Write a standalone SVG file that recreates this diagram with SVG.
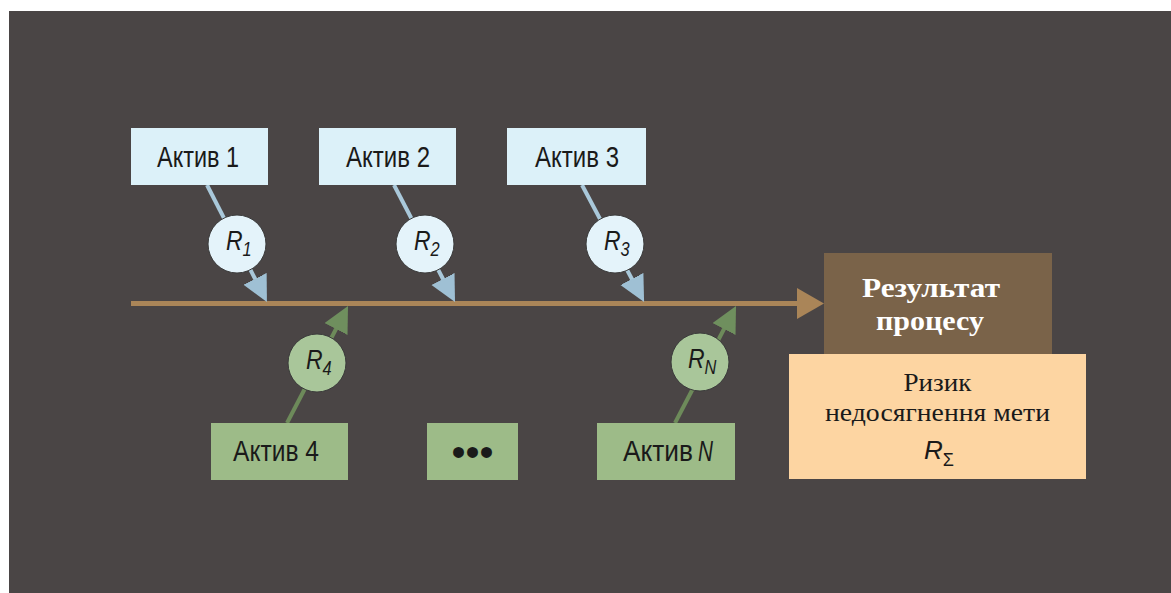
<svg xmlns="http://www.w3.org/2000/svg" width="1171" height="593" viewBox="0 0 1171 593">
<style>
.bg{fill:#4a4545}
.bbox{fill:#dcf1f9}
.gbox{fill:#9dbb88}
.bcirc{fill:#e4f3fa;stroke:#3a3a3a;stroke-width:1}
.gcirc{fill:#a9c69a;stroke:#3a3a3a;stroke-width:1}
.lbl{font-family:"Liberation Sans",Arial,sans-serif;font-size:29px;fill:#1a1a1a}
.rl{font-family:"Liberation Sans",Arial,sans-serif;font-size:28px;font-style:italic;fill:#1a1a1a}
.sub{font-size:20px}
.bl{stroke:#a9c8da;stroke-width:4;fill:none}
.gl{stroke:#6d8a5a;stroke-width:4;fill:none}
.ser{font-family:"Liberation Serif","Times New Roman",serif}
</style>
<defs>
<marker id="ab" markerUnits="userSpaceOnUse" markerWidth="28" markerHeight="28" refX="13" refY="13" orient="auto" viewBox="0 0 28 28">
<path d="M0,0 L26,13 L0,26 z" fill="#9fc0d4"/>
</marker>
<marker id="ag" markerUnits="userSpaceOnUse" markerWidth="28" markerHeight="28" refX="13" refY="13" orient="auto" viewBox="0 0 28 28">
<path d="M0,0 L26,13 L0,26 z" fill="#6f8f5e"/>
</marker>
</defs>
<rect x="0" y="0" width="1171" height="593" fill="#ffffff"/>
<rect class="bg" x="9" y="11" width="1162" height="582"/>

<g id="connectors">
<line x1="131" y1="303.5" x2="799" y2="303.5" stroke="#aa8558" stroke-width="5"/>
<polygon points="797,288 824,303.5 797,319" fill="#aa8558"/>
<line class="bl" x1="207" y1="185" x2="261" y2="290.4" marker-end="url(#ab)"/>
<line class="bl" x1="394" y1="185" x2="449" y2="290.5" marker-end="url(#ab)"/>
<line class="bl" x1="582" y1="185" x2="638" y2="290.5" marker-end="url(#ab)"/>
<line class="gl" x1="287" y1="423" x2="342" y2="317.5" marker-end="url(#ag)"/>
<line class="gl" x1="675" y1="423" x2="730" y2="317.5" marker-end="url(#ag)"/>
</g>

<g id="asset1">
<rect class="bbox" x="131" y="128" width="137" height="57"/>
<text class="lbl" x="157" y="167" textLength="82" lengthAdjust="spacingAndGlyphs">Актив 1</text>
</g>
<g id="asset2">
<rect class="bbox" x="319" y="128" width="137" height="57"/>
<text class="lbl" x="346" y="167" textLength="84" lengthAdjust="spacingAndGlyphs">Актив 2</text>
</g>
<g id="asset3">
<rect class="bbox" x="507" y="128" width="139" height="57"/>
<text class="lbl" x="535" y="167" textLength="84" lengthAdjust="spacingAndGlyphs">Актив 3</text>
</g>

<g id="r1">
<circle class="bcirc" cx="237" cy="244" r="29"/>
<text class="rl" transform="translate(226,250) scale(0.82,1)">R<tspan class="sub" dy="6">1</tspan></text>
</g>
<g id="r2">
<circle class="bcirc" cx="425" cy="244" r="29"/>
<text class="rl" transform="translate(414,250) scale(0.82,1)">R<tspan class="sub" dy="6">2</tspan></text>
</g>
<g id="r3">
<circle class="bcirc" cx="615" cy="244" r="29"/>
<text class="rl" transform="translate(604,250) scale(0.82,1)">R<tspan class="sub" dy="6">3</tspan></text>
</g>

<g id="asset4">
<rect class="gbox" x="211" y="423" width="137" height="57"/>
<text class="lbl" x="233" y="461" textLength="86" lengthAdjust="spacingAndGlyphs">Актив 4</text>
</g>
<g id="dots">
<rect class="gbox" x="427" y="423" width="91" height="57"/>
<text x="472.5" y="466" text-anchor="middle" font-family="'Liberation Sans',Arial,sans-serif" font-size="40" fill="#1a1a1a">•••</text>
</g>
<g id="assetN">
<rect class="gbox" x="597" y="423" width="138" height="57"/>
<text class="lbl" x="623" y="461" textLength="70" lengthAdjust="spacingAndGlyphs">Актив</text>
<text class="lbl" x="698" y="461" font-style="italic" textLength="15" lengthAdjust="spacingAndGlyphs">N</text>
</g>

<g id="r4">
<circle class="gcirc" cx="317" cy="363" r="29"/>
<text class="rl" transform="translate(306,369) scale(0.82,1)">R<tspan class="sub" dy="6">4</tspan></text>
</g>
<g id="rN">
<circle class="gcirc" cx="700" cy="362" r="29"/>
<text class="rl" transform="translate(688,368) scale(0.82,1)">R<tspan class="sub" dy="6">N</tspan></text>
</g>

<g id="result">
<rect x="824" y="253" width="228" height="103" fill="#7a6349"/>
<text class="ser" x="931" y="297" text-anchor="middle" font-size="27" font-weight="bold" fill="#ffffff" textLength="138" lengthAdjust="spacingAndGlyphs">Результат</text>
<text class="ser" x="930" y="330" text-anchor="middle" font-size="27" font-weight="bold" fill="#ffffff" textLength="108" lengthAdjust="spacingAndGlyphs">процесу</text>
</g>
<g id="risk">
<rect x="789" y="354" width="297" height="125" fill="#fdd5a2"/>
<text class="ser" x="937.5" y="391" text-anchor="middle" font-size="26" fill="#1a1a1a" textLength="68" lengthAdjust="spacingAndGlyphs">Ризик</text>
<text class="ser" x="937.5" y="421" text-anchor="middle" font-size="26" fill="#1a1a1a" textLength="225" lengthAdjust="spacingAndGlyphs">недосягнення мети</text>
<text x="924" y="459" font-family="'Liberation Sans',Arial,sans-serif" font-size="26" font-style="italic" fill="#1a1a1a">R<tspan font-size="18" dy="7" font-style="normal">Σ</tspan></text>
</g>
</svg>
